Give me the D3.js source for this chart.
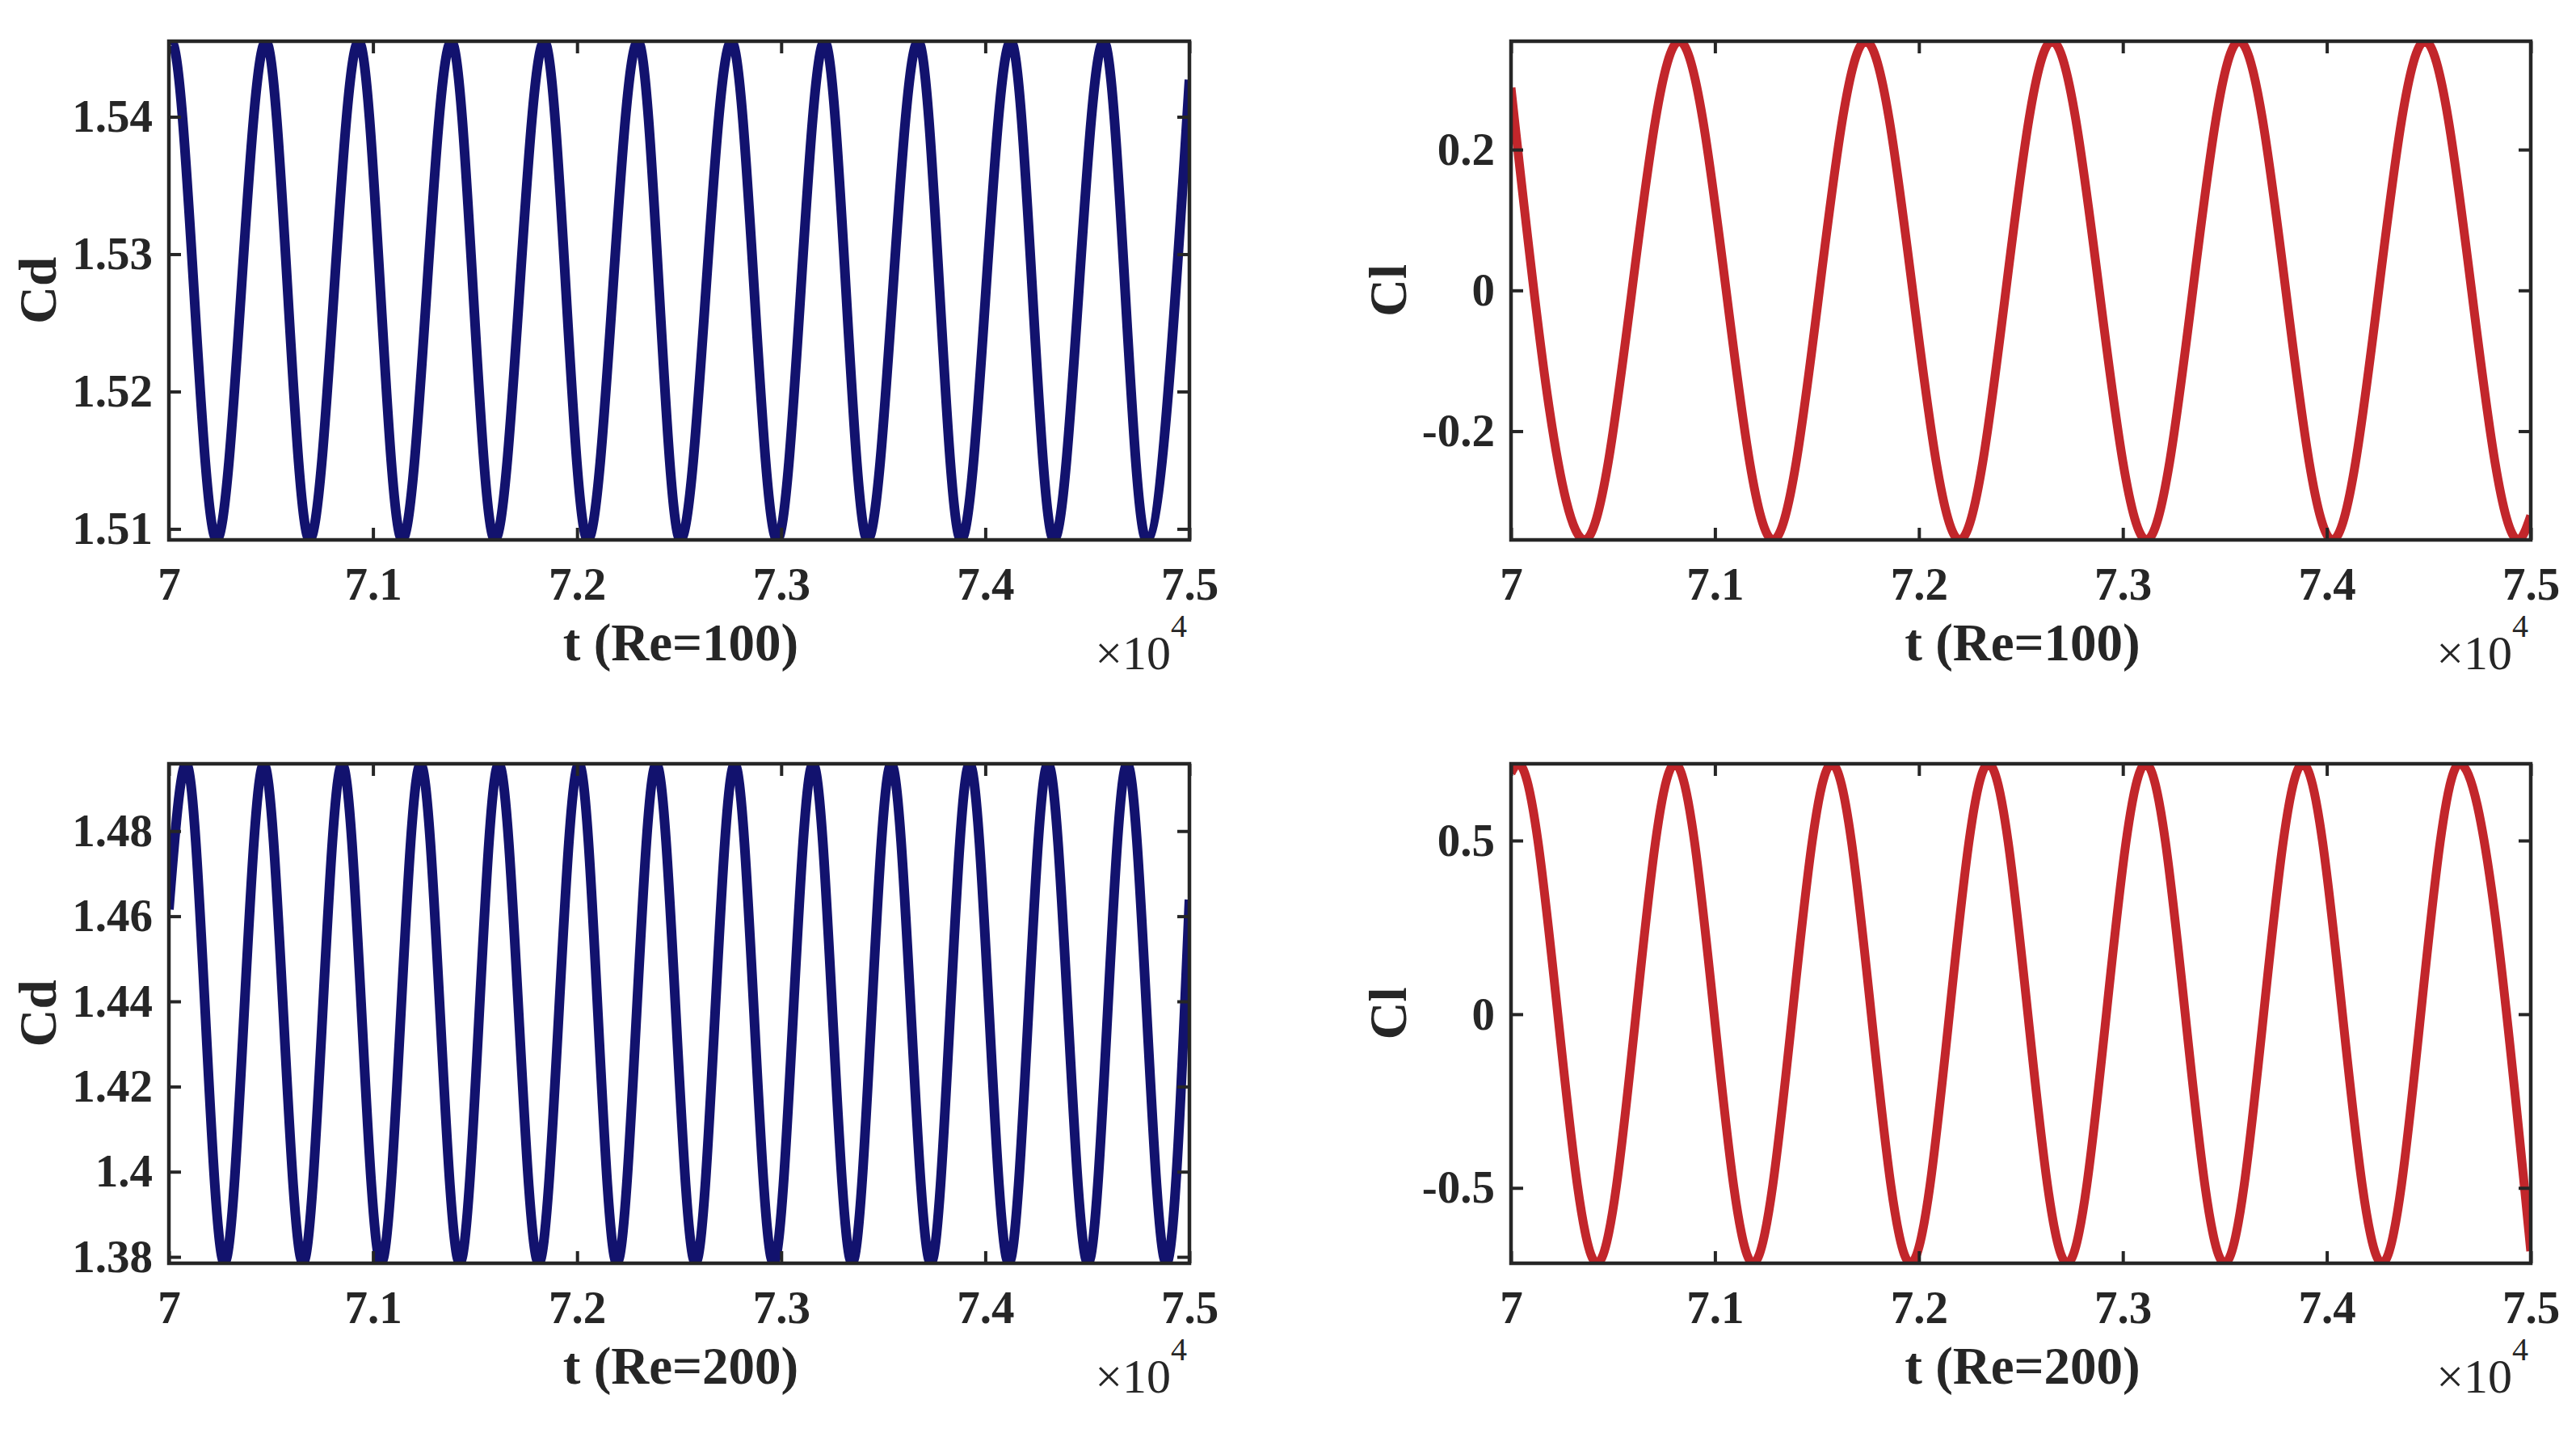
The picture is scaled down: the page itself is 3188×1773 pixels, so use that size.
<!DOCTYPE html>
<html>
<head>
<meta charset="utf-8">
<script src="https://cdn.jsdelivr.net/npm/d3@7"></script>
<style>
  body { margin: 0; background: #ffffff; }
  svg { display: block; }
  text { font-family: "Liberation Serif", "Times New Roman", serif; fill: #262626; }
</style>
</head>
<body>
<svg id="chart" width="3188" height="1773"></svg>
<script>
// ---------------- data ----------------
const tLimits = [70000, 75000];
const xTickValues = [70000, 71000, 72000, 73000, 74000, 75000];
const xTickLabels = ["7", "7.1", "7.2", "7.3", "7.4", "7.5"];

// Cd, Re=100 : start, alternating peaks / troughs, end
const cd100T = [70000, 70012, 70234, 70475, 70689, 70930, 71143, 71384, 71597, 71839, 72052,
                72298, 72506, 72756, 72980, 73212, 73423, 73671, 73881, 74125, 74336, 74580, 74790, 75000];
const cd100V = [1.5454, 1.5455, 1.5092, 1.5455, 1.5092, 1.5455, 1.5092, 1.5455, 1.5092, 1.5455, 1.5092,
                1.5455, 1.5092, 1.5455, 1.5092, 1.5455, 1.5092, 1.5455, 1.5092, 1.5455, 1.5092, 1.5455, 1.5092, 1.5427];
const cd100Ticks = [1.51, 1.52, 1.53, 1.54];
const cd100TickLabels = ["1.51", "1.52", "1.53", "1.54"];

// Cl, Re=100
const cl100T = [70000, 70361, 70825, 71285, 71739, 72200, 72653, 73116, 73570, 74028, 74481, 74939, 75000];
const cl100V = [0.288, -0.3545, 0.354, -0.3545, 0.354, -0.3545, 0.354, -0.3545, 0.354, -0.3545, 0.354, -0.3545, -0.320];
const cl100Ticks = [-0.2, 0, 0.2];
const cl100TickLabels = ["-0.2", "0", "0.2"];

// Cd, Re=200
const cd200T = [70000, 70085, 70272, 70465, 70657, 70849, 71040, 71233, 71425, 71616, 71812, 72009, 72195,
                72388, 72580, 72772, 72962, 73156, 73347, 73539, 73733, 73923, 74115, 74307, 74503, 74695, 74887, 75000];
const cd200V = [1.4616, 1.4958, 1.3785, 1.4958, 1.3785, 1.4958, 1.3785, 1.4958, 1.3785, 1.4958, 1.3785, 1.4958, 1.3785,
                1.4958, 1.3785, 1.4958, 1.3785, 1.4958, 1.3785, 1.4958, 1.3785, 1.4958, 1.3785, 1.4958, 1.3785, 1.4958, 1.3785, 1.4639];
const cd200Ticks = [1.38, 1.40, 1.42, 1.44, 1.46, 1.48];
const cd200TickLabels = ["1.38", "1.4", "1.42", "1.44", "1.46", "1.48"];

// Cl, Re=200
const cl200T = [70000, 70036, 70422, 70804, 71187, 71573, 71959, 72341, 72727, 73112, 73499, 73882, 74271, 74651, 75000];
const cl200V = [0.694, 0.721, -0.717, 0.721, -0.717, 0.721, -0.717, 0.721, -0.717, 0.721, -0.717, 0.721, -0.717, 0.721, -0.682];
const cl200Ticks = [-0.5, 0, 0.5];
const cl200TickLabels = ["-0.5", "0", "0.5"];

const yLabels = ["Cd", "Cl", "Cd", "Cl"];
const xLabels = ["t (Re=100)", "t (Re=100)", "t (Re=200)", "t (Re=200)"];

// ---------------- layout / style ----------------
const COLOR_CD = "#12126e";
const COLOR_CL = "#c2262b";
const AX = "#262626";
const TICK_FONT = 57, LABEL_FONT = 65;

const panels = [
  { box: [209, 51, 1472, 668],   t: cd100T, v: cd100V, ticks: cd100Ticks, tickLabels: cd100TickLabels, color: COLOR_CD, width: 12, ylab: yLabels[0], xlab: xLabels[0], ylabX: 69 },
  { box: [1870, 51, 3132, 668],  t: cl100T, v: cl100V, ticks: cl100Ticks, tickLabels: cl100TickLabels, color: COLOR_CL, width: 11, ylab: yLabels[1], xlab: xLabels[1], ylabX: 1740 },
  { box: [209, 945, 1472, 1563], t: cd200T, v: cd200V, ticks: cd200Ticks, tickLabels: cd200TickLabels, color: COLOR_CD, width: 12, ylab: yLabels[2], xlab: xLabels[2], ylabX: 69 },
  { box: [1870, 945, 3132, 1563],t: cl200T, v: cl200V, ticks: cl200Ticks, tickLabels: cl200TickLabels, color: COLOR_CL, width: 11, ylab: yLabels[3], xlab: xLabels[3], ylabX: 1740 }
];

const svg = d3.select("#chart");
svg.append("rect").attr("width", 3188).attr("height", 1773).attr("fill", "#fff");

panels.forEach((p, i) => {
  const [x0, y0, x1, y1] = p.box;
  const W = x1 - x0, H = y1 - y0;
  const data = p.t.map((t, k) => ({ t, v: p.v[k] }));

  const x = d3.scaleLinear().domain(tLimits).range([0, W]);
  const y = d3.scaleLinear().domain(d3.extent(p.v)).range([H, 0]);

  const g = svg.append("g").attr("transform", `translate(${x0},${y0})`);

  svg.append("clipPath").attr("id", "clip" + i)
    .append("rect").attr("x", -2).attr("y", -2).attr("width", W + 4).attr("height", H + 4);

  // data line
  const line = d3.line().x(d => x(d.t)).y(d => y(d.v)).curve(d3.curveMonotoneX);
  g.append("path")
    .datum(data)
    .attr("clip-path", `url(#clip${i})`)
    .attr("d", line)
    .attr("fill", "none")
    .attr("stroke", p.color)
    .attr("stroke-width", p.width)
    .attr("stroke-linejoin", "round");

  const xLabelMap = new Map(xTickValues.map((v, k) => [v, xTickLabels[k]]));
  const yLabelMap = new Map(p.ticks.map((v, k) => [v, p.tickLabels[k]]));

  const gb = g.append("g").attr("transform", `translate(0,${H})`)
    .call(d3.axisBottom(x).tickValues(xTickValues).tickSize(-15).tickPadding(34)
      .tickFormat(d => xLabelMap.get(d)));
  const gt = g.append("g")
    .call(d3.axisTop(x).tickValues(xTickValues).tickSize(-15).tickFormat(""));
  const gl = g.append("g")
    .call(d3.axisLeft(y).tickValues(p.ticks).tickSize(-15).tickPadding(20)
      .tickFormat(d => yLabelMap.get(d)));
  const gr = g.append("g").attr("transform", `translate(${W},0)`)
    .call(d3.axisRight(y).tickValues(p.ticks).tickSize(-15).tickFormat(""));

  [gb, gt, gl, gr].forEach(a => {
    a.select(".domain").remove();
    a.selectAll(".tick line").attr("stroke", AX).attr("stroke-width", 4);
    a.selectAll(".tick text")
      .attr("fill", AX)
      .style("font-family", '"Liberation Serif", "Times New Roman", serif')
      .style("font-weight", "bold")
      .style("font-size", TICK_FONT + "px");
  });

  g.append("rect").attr("x", 0).attr("y", 0).attr("width", W).attr("height", H)
    .attr("fill", "none").attr("stroke", AX).attr("stroke-width", 4.5);

  svg.append("text")
    .attr("transform", `translate(${p.ylabX},${y0 + H / 2}) rotate(-90)`)
    .attr("text-anchor", "middle")
    .style("font-weight", "bold").style("font-size", LABEL_FONT + "px")
    .text(p.ylab);

  svg.append("text")
    .attr("x", x0 + W / 2 + 2).attr("y", y1 + 149)
    .attr("text-anchor", "middle")
    .style("font-weight", "bold").style("font-size", LABEL_FONT + "px")
    .text(p.xlab);

  const ex = svg.append("text")
    .attr("x", x1 - 3).attr("y", y1 + 160)
    .attr("text-anchor", "end")
    .style("font-size", "60px");
  ex.append("tspan").text("\u00d710");
  ex.append("tspan").attr("dy", -40).style("font-size", "40px").text("4");
});
</script>
</body>
</html>
